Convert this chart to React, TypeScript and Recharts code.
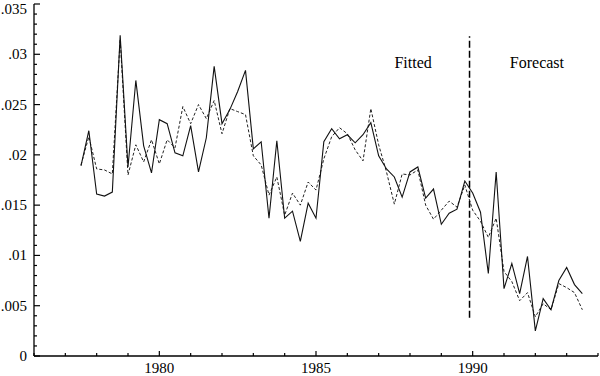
import React from "react";
import { LineChart, Line, XAxis, YAxis, ReferenceLine, ReferenceDot } from "recharts";

const quarters = [
  1977.5, 1977.75, 1978, 1978.25, 1978.5, 1978.75, 1979, 1979.25, 1979.5, 1979.75,
  1980, 1980.25, 1980.5, 1980.75, 1981, 1981.25, 1981.5, 1981.75, 1982, 1982.25,
  1982.5, 1982.75, 1983, 1983.25, 1983.5, 1983.75, 1984, 1984.25, 1984.5, 1984.75,
  1985, 1985.25, 1985.5, 1985.75, 1986, 1986.25, 1986.5, 1986.75, 1987, 1987.25,
  1987.5, 1987.75, 1988, 1988.25, 1988.5, 1988.75, 1989, 1989.25, 1989.5, 1989.75,
  1990, 1990.25, 1990.5, 1990.75, 1991, 1991.25, 1991.5, 1991.75, 1992, 1992.25,
  1992.5, 1992.75, 1993, 1993.25, 1993.5,
];

const actual = [
  0.0189, 0.0224, 0.0161, 0.0159, 0.0163, 0.0319, 0.0188, 0.0274, 0.0209, 0.0182,
  0.0235, 0.0231, 0.0202, 0.0199, 0.0229, 0.0183, 0.0217, 0.0288, 0.0231, 0.0245,
  0.0263, 0.0284, 0.0206, 0.0213, 0.0137, 0.0214, 0.0137, 0.0144, 0.0114, 0.0152,
  0.0137, 0.0213, 0.0226, 0.0216, 0.022, 0.0212, 0.022, 0.0232, 0.0199, 0.0186,
  0.0178, 0.0158, 0.0183, 0.0188, 0.0157, 0.0166, 0.0131, 0.0142, 0.0146, 0.0174,
  0.0162, 0.0143, 0.0082, 0.0183, 0.0067, 0.0092, 0.0062, 0.0099, 0.0025, 0.0057,
  0.0046, 0.0075, 0.0088, 0.0071, 0.0062,
];

const fitted = [
  0.019, 0.0218, 0.0186, 0.0185, 0.0181, 0.0315, 0.018, 0.021, 0.0193, 0.0215,
  0.0191, 0.0215, 0.0207, 0.0248, 0.0231, 0.025, 0.0236, 0.0254, 0.0221, 0.0246,
  0.0243, 0.024, 0.0199, 0.019, 0.016, 0.0178, 0.014, 0.0162, 0.015, 0.0173,
  0.0165, 0.0196, 0.0218, 0.0227, 0.0221, 0.0205, 0.0194, 0.0246, 0.021, 0.0183,
  0.0151, 0.0181, 0.018, 0.0185, 0.015, 0.0136, 0.0145, 0.0154, 0.0148, 0.017,
  0.0145, 0.0134, 0.0118, 0.0137, 0.0084, 0.0074, 0.0055, 0.0063, 0.0039, 0.0052,
  0.0046, 0.0072, 0.0068, 0.0063, 0.0046,
];

const xTicks = [1976, 1977, 1978, 1979, 1980, 1981, 1982, 1983, 1984, 1985, 1986, 1987, 1988, 1989, 1990, 1991, 1992, 1993, 1994];
const xMajorTicks = [1980, 1985, 1990];

const yTicks = [
  0, 0.001, 0.002, 0.003, 0.004, 0.005, 0.006, 0.007, 0.008, 0.009,
  0.01, 0.011, 0.012, 0.013, 0.014, 0.015, 0.016, 0.017, 0.018, 0.019,
  0.02, 0.021, 0.022, 0.023, 0.024, 0.025, 0.026, 0.027, 0.028, 0.029,
  0.03, 0.031, 0.032, 0.033, 0.034, 0.035,
];
const yMajorTicks = [0, 0.005, 0.01, 0.015, 0.02, 0.025, 0.03, 0.035];
const yMajorLabels = ["0", ".005", ".01", ".015", ".02", ".025", ".03", ".035"];

const splitYear = 1989.9;
const splitRange = [0.0038, 0.0318];
const annotations = [
  { x: 1988.1, y: 0.0292, text: "Fitted" },
  { x: 1992.05, y: 0.0292, text: "Forecast" },
];

const data = quarters.map((t, i) => ({ t, actual: actual[i], fitted: fitted[i] }));

const FONT = "'Liberation Serif', 'Times New Roman', serif";

const XTick = (props: any) => {
  const { x, y, payload } = props;
  const v = payload.value;
  const major = xMajorTicks.includes(v);
  return (
    <g>
      <line x1={x} x2={x} y1={y} y2={y - (major ? 5 : 3)} stroke="#000" strokeWidth={1.2} />
      {major && (
        <text x={x} y={y + 17} textAnchor="middle" fontFamily={FONT} fontSize={15} fill="#000">
          {v}
        </text>
      )}
    </g>
  );
};

const YTick = (props: any) => {
  const { x, y, payload } = props;
  const v = payload.value;
  const idx = yMajorTicks.findIndex((m) => Math.abs(m - v) < 1e-9);
  const major = idx >= 0;
  return (
    <g>
      <line x1={x} x2={x + (major ? 6 : 3)} y1={y} y2={y} stroke="#000" strokeWidth={1.2} />
      {major && (
        <text x={x - 7} y={Math.max(y + 5, 14)} textAnchor="end" fontFamily={FONT} fontSize={15} fill="#000">
          {yMajorLabels[idx]}
        </text>
      )}
    </g>
  );
};

export default function App() {
  return (
    <div style={{ position: "absolute", left: 0, top: 0, width: 600, height: 376, background: "#fff" }}>
      <LineChart width={600} height={376} data={data} margin={{ top: 4, right: 2, bottom: 0, left: 0 }}>
        <XAxis
          dataKey="t"
          type="number"
          domain={[1976, 1994]}
          ticks={xTicks}
          interval={0}
          height={20}
          tickSize={0}
          tickMargin={0}
          tick={<XTick />}
          axisLine={{ stroke: "#000", strokeWidth: 1.3 }}
          tickLine={false}
          allowDataOverflow
        />
        <YAxis
          type="number"
          domain={[0, 0.035]}
          ticks={yTicks}
          interval={0}
          width={34}
          tickSize={0}
          tickMargin={0}
          tick={<YTick />}
          axisLine={{ stroke: "#000", strokeWidth: 1.3 }}
          tickLine={false}
          allowDataOverflow
        />
        <Line
          dataKey="fitted"
          stroke="#222"
          strokeWidth={1}
          strokeDasharray="3 2"
          dot={false}
          isAnimationActive={false}
        />
        <Line dataKey="actual" stroke="#111" strokeWidth={1.1} dot={false} isAnimationActive={false} />
        <ReferenceLine
          segment={[
            { x: splitYear, y: splitRange[0] },
            { x: splitYear, y: splitRange[1] },
          ]}
          stroke="#000"
          strokeWidth={1.5}
          strokeDasharray="7 3"
          ifOverflow="visible"
        />
        {annotations.map((a) => (
          <ReferenceDot
            key={a.text}
            x={a.x}
            y={a.y}
            r={0}
            fill="none"
            stroke="none"
            ifOverflow="visible"
            label={{ value: a.text, position: "center", fontSize: 16, fill: "#000", fontFamily: FONT }}
          />
        ))}
      </LineChart>
    </div>
  );
}
